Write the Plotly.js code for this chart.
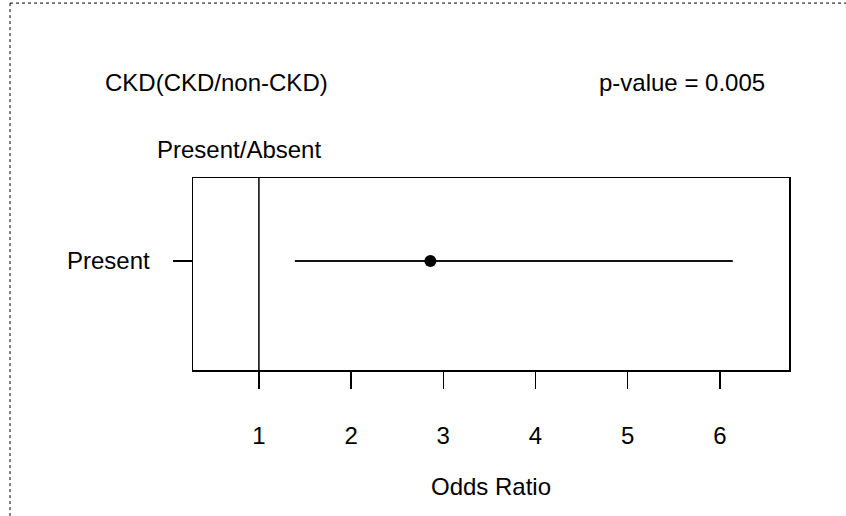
<!DOCTYPE html>
<html><head><meta charset="utf-8">
<script src="https://cdn.plot.ly/plotly-3.0.1.min.js"></script>
<style>html,body{margin:0;padding:0;background:#fff}#chart{width:846px;height:516px}</style>
</head><body><div id="chart"></div>
<script>
const categories = ['Present'];
const oddsRatio = [2.86];
const ciLow = [1.39];
const ciHigh = [6.14];
const refValue = 1;
const xTicks = [1, 2, 3, 4, 5, 6];
const titleLeft = 'CKD(CKD/non-CKD)';
const titleRight = 'p-value = 0.005';
const groupLabel = 'Present/Absent';

const FONT = 'Liberation Sans Narrow, Arial Narrow, Liberation Sans, Arial, sans-serif';
const FS = 24;

const trace = {
  type: 'scatter', mode: 'markers',
  x: oddsRatio, y: categories.map((c, i) => i + 1),
  marker: {color: '#000', size: 12, symbol: 'circle'},
  error_x: {type: 'data', symmetric: false,
    array: ciHigh.map((h, i) => h - oddsRatio[i]),
    arrayminus: ciLow.map((l, i) => oddsRatio[i] - l),
    width: 0, thickness: 2, color: '#111'},
  hoverinfo: 'x', showlegend: false
};

const layout = {
  width: 846, height: 516,
  margin: {l: 193, r: 57, t: 178, b: 146},
  paper_bgcolor: '#fff', plot_bgcolor: '#fff',
  font: {family: FONT, size: FS, color: '#000'},
  xaxis: {range: [0.285, 6.75], tickvals: xTicks, ticktext: xTicks.map(String),
    ticks: 'outside', ticklen: 17, tickwidth: 1.5, tickcolor: '#000',
    ticklabelstandoff: 27, showgrid: false, zeroline: false,
    showline: true, linecolor: '#000', linewidth: 1.5, mirror: true,
    title: {text: 'Odds Ratio', standoff: 30, font: {family: FONT, size: FS}},
    tickfont: {family: FONT, size: FS}, fixedrange: true},
  yaxis: {range: [0.5, 1.38], tickvals: categories.map((c, i) => i + 1), ticktext: categories,
    ticks: 'outside', ticklen: 19, tickwidth: 1.5, tickcolor: '#000',
    ticklabelstandoff: 18, showgrid: false, zeroline: false,
    showline: true, linecolor: '#000', linewidth: 1.5, mirror: true,
    tickfont: {family: FONT, size: FS}, fixedrange: true},
  shapes: [
    {type: 'line', xref: 'x', yref: 'paper', x0: refValue, x1: refValue, y0: 0, y1: 1,
     line: {color: '#000', width: 1.5}},
    {type: 'line', xref: 'paper', yref: 'paper', x0: -0.307, x1: 1.1, y0: 1.911, y1: 1.911,
     line: {color: '#000', width: 1, dash: 'dot'}},
    {type: 'line', xref: 'paper', yref: 'paper', x0: -0.307, x1: -0.307, y0: 1.911, y1: -0.77,
     line: {color: '#000', width: 1, dash: 'dot'}}
  ],
  annotations: [
    {text: titleLeft, xref: 'paper', yref: 'paper', x: -0.151, y: 1.5, xanchor: 'left', yanchor: 'middle', showarrow: false, font: {family: FONT, size: FS}},
    {text: titleRight, xref: 'paper', yref: 'paper', x: 0.963, y: 1.5, xanchor: 'right', yanchor: 'middle', showarrow: false, font: {family: FONT, size: FS}},
    {text: groupLabel, xref: 'paper', yref: 'paper', x: -0.0638, y: 1.146, xanchor: 'left', yanchor: 'middle', showarrow: false, font: {family: FONT, size: FS}}
  ]
};

Plotly.newPlot('chart', [trace], layout, {displayModeBar: false, staticPlot: true});
</script></body></html>
